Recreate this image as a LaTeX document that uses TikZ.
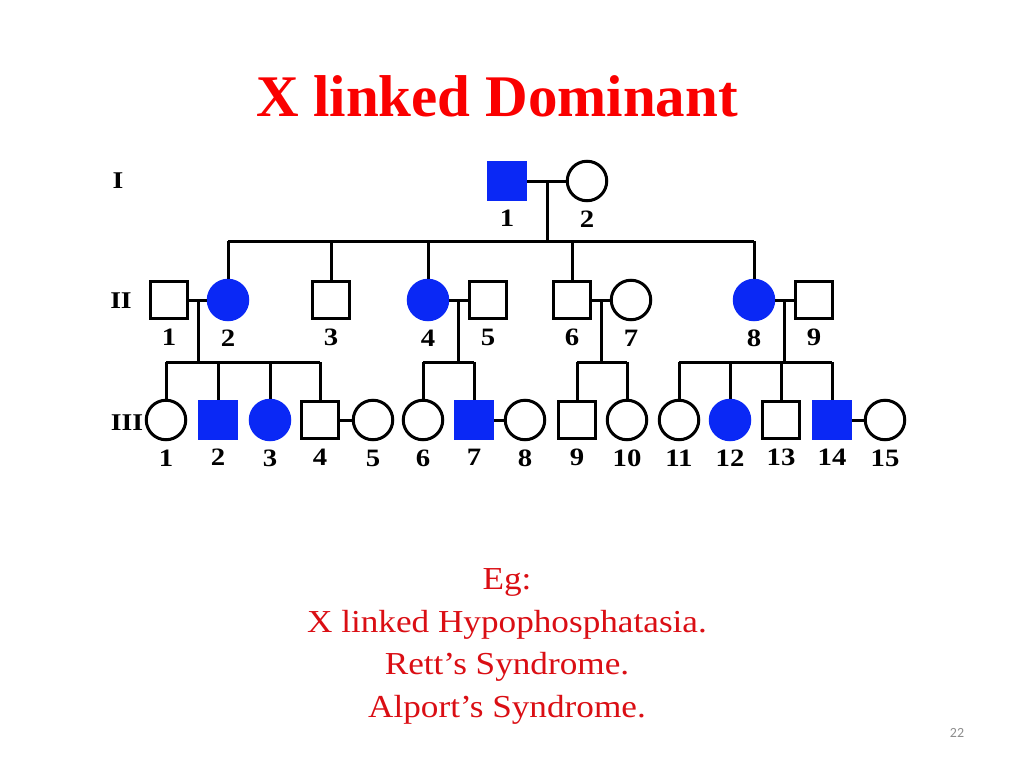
\documentclass[tikz,border=0pt]{standalone}
\usepackage{fontspec}
\usepackage{tikz}
\usetikzlibrary{calc}
\setmainfont{Liberation Serif}
\newfontfamily\pedfont[FakeStretch=1.15]{Liberation Serif}
\newfontfamily\egfont[FakeStretch=1.1]{Liberation Serif}
\newfontfamily\pagefont{Carlito}
\definecolor{pblue}{RGB}{10,40,245}
\definecolor{titlered}{RGB}{250,0,0}
\definecolor{egred}{RGB}{218,14,20}
\definecolor{pagegray}{RGB}{140,140,140}

\begin{document}
\begin{tikzpicture}[x=1pt, y=-1pt, line width=3pt,
  male/.style={draw, rectangle, fill=white, inner sep=0pt, minimum size=37.5pt,
    every label/.append style={yshift=-1.5pt}},
  female/.style={draw, circle, fill=white, inner sep=0pt, minimum size=39.5pt},
  aff/.style={draw=pblue, fill=pblue},
  gen/.style={font=\pedfont\bfseries\fontsize{24}{24}\selectfont},
  every label/.style={font=\pedfont\bfseries\fontsize{25}{25}\selectfont,
    inner sep=0pt, text height=17pt, text depth=0pt, label distance=7pt} ]
      \useasboundingbox (0,0) rectangle (1024,768);
      \node[font=\bfseries\fontsize{59}{59}\selectfont, text=titlered, anchor=base] (title) at (497,116) {X linked Dominant};
      \node[gen] (gI) at (118,181) {I};
      \node[gen] (gII) at (121,301) {II};
      \node[gen] (gIII) at (127,423) {III};
      % generation I
      \node[male, aff, label=below:1] (I1) at (507,181) {};
      \node[female, label=below:2] (I2) at (587,181) {};
      % generation II
      \node[male, label=below:1] (II1) at (169,300) {};
      \node[female, aff, label=below:2] (II2) at (228,300) {};
      \node[male, label=below:3] (II3) at (331,300) {};
      \node[female, aff, label=below:4] (II4) at (428,300) {};
      \node[male, label=below:5] (II5) at (488,300) {};
      \node[male, label=below:6] (II6) at (572,300) {};
      \node[female, label=below:7] (II7) at (631,300) {};
      \node[female, aff, label=below:8] (II8) at (754,300) {};
      \node[male, label=below:9] (II9) at (814,300) {};
      % generation III
      \node[female, label=below:1] (III1) at (166,420) {};
      \node[male, aff, label=below:2] (III2) at (218,420) {};
      \node[female, aff, label=below:3] (III3) at (270,420) {};
      \node[male, label=below:4] (III4) at (320,420) {};
      \node[female, label=below:5] (III5) at (373,420) {};
      \node[female, label=below:6] (III6) at (423,420) {};
      \node[male, aff, label=below:7] (III7) at (474,420) {};
      \node[female, label=below:8] (III8) at (525,420) {};
      \node[male, label=below:9] (III9) at (577,420) {};
      \node[female, label=below:10] (III10) at (627,420) {};
      \node[female, label=below:11] (III11) at (679,420) {};
      \node[female, aff, label=below:12] (III12) at (730,420) {};
      \node[male, label=below:13] (III13) at (781,420) {};
      \node[male, aff, label=below:14] (III14) at (832,420) {};
      \node[female, label=below:15] (III15) at (885,420) {};
      % couples
      \draw (I1)--(I2);
      \draw (II1)--(II2);
      \draw (II4)--(II5);
      \draw (II6)--(II7);
      \draw (II8)--(II9);
      \draw (III4)--(III5);
      \draw (III7)--(III8);
      \draw (III14)--(III15);
      \coordinate (mI) at ($(I1)!0.5!(I2)$);
      \coordinate (mII1) at ($(II1)!0.5!(II2)$);
      \coordinate (mII4) at ($(II4)!0.5!(II5)$);
      \coordinate (mII6) at ($(II6)!0.5!(II7)$);
      \coordinate (mII8) at ($(II8)!0.5!(II9)$);
      \coordinate (sI) at (0,241);
      \coordinate (sII) at (0,362);
      % sibships
      \draw (mI)--(mI |- sI);
      \draw (II2 |- sI)--(II8 |- sI);
      \draw (II2)--(II2 |- sI);
      \draw (II3)--(II3 |- sI);
      \draw (II4)--(II4 |- sI);
      \draw (II6)--(II6 |- sI);
      \draw (II8)--(II8 |- sI);
      \draw (mII1)--(mII1 |- sII);
      \draw (III1 |- sII)--(III4 |- sII);
      \draw (III1)--(III1 |- sII);
      \draw (III2)--(III2 |- sII);
      \draw (III3)--(III3 |- sII);
      \draw (III4)--(III4 |- sII);
      \draw (mII4)--(mII4 |- sII);
      \draw (III6 |- sII)--(III7 |- sII);
      \draw (III6)--(III6 |- sII);
      \draw (III7)--(III7 |- sII);
      \draw (mII6)--(mII6 |- sII);
      \draw (III9 |- sII)--(III10 |- sII);
      \draw (III9)--(III9 |- sII);
      \draw (III10)--(III10 |- sII);
      \draw (mII8)--(mII8 |- sII);
      \draw (III11 |- sII)--(III14 |- sII);
      \draw (III11)--(III11 |- sII);
      \draw (III12)--(III12 |- sII);
      \draw (III13)--(III13 |- sII);
      \draw (III14)--(III14 |- sII);
      % examples
      \node[font=\egfont\fontsize{32}{32}\selectfont, text=egred, anchor=base] (eg) at (507,589) {Eg:};
      \node[font=\egfont\fontsize{32}{32}\selectfont, text=egred, anchor=base] (ex1) at (507,632) {X linked Hypophosphatasia.};
      \node[font=\egfont\fontsize{32}{32}\selectfont, text=egred, anchor=base] (ex2) at (507,674) {Rett’s Syndrome.};
      \node[font=\egfont\fontsize{32}{32}\selectfont, text=egred, anchor=base] (ex3) at (507,717) {Alport’s Syndrome.};
      \node[font=\pagefont\fontsize{14}{14}\selectfont, text=pagegray] (page) at (957,733) {22};
      \end{tikzpicture}
\end{document}
